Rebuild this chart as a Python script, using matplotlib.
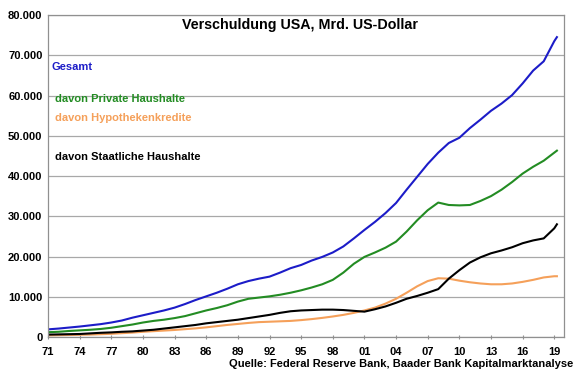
import matplotlib
matplotlib.use("Agg")
import matplotlib.pyplot as plt

plt.rcParams['font.family'] = ['Liberation Sans', 'DejaVu Sans']

# Jahre (Jahresanfang), letzter Punkt Q1 2019
jahre = list(range(1971, 2020)) + [2019.25]

gesamt = [1.9, 2.1, 2.35, 2.6, 2.9, 3.2, 3.6, 4.1, 4.8, 5.4,
          6.0, 6.6, 7.3, 8.2, 9.2, 10.1, 11.0, 12.0, 13.1, 13.9,
          14.5, 15.0, 16.0, 17.1, 17.9, 19.0, 19.9, 21.0, 22.5, 24.5,
          26.6, 28.6, 30.8, 33.3, 36.6, 39.8, 43.0, 45.8, 48.2, 49.5,
          51.9, 54.0, 56.2, 58.0, 60.1, 63.0, 66.2, 68.5, 73.5, 74.5]

private = [1.2, 1.3, 1.5, 1.65, 1.8, 2.0, 2.3, 2.7, 3.1, 3.6,
           4.0, 4.3, 4.7, 5.2, 5.9, 6.6, 7.2, 7.9, 8.8, 9.5,
           9.8, 10.1, 10.5, 11.0, 11.6, 12.3, 13.1, 14.2, 16.0, 18.2,
           19.9, 21.0, 22.2, 23.7, 26.2, 29.0, 31.5, 33.4, 32.8, 32.7,
           32.8, 33.8, 35.0, 36.6, 38.5, 40.6, 42.3, 43.8, 45.8, 46.3]

hypothek = [0.4, 0.45, 0.5, 0.55, 0.6, 0.7, 0.8, 0.95, 1.1, 1.3,
            1.45, 1.6, 1.75, 1.95, 2.15, 2.4, 2.7, 3.0, 3.25, 3.5,
            3.7, 3.8, 3.9, 4.0, 4.2, 4.45, 4.75, 5.1, 5.5, 6.0,
            6.6, 7.3, 8.3, 9.5, 11.0, 12.6, 13.9, 14.6, 14.5, 14.0,
            13.6, 13.3, 13.1, 13.1, 13.3, 13.7, 14.2, 14.8, 15.1, 15.1]

staat = [0.6, 0.65, 0.7, 0.75, 0.9, 1.05, 1.15, 1.3, 1.4, 1.6,
         1.8, 2.1, 2.4, 2.7, 3.0, 3.4, 3.7, 4.0, 4.3, 4.7,
         5.1, 5.5, 6.0, 6.4, 6.6, 6.7, 6.8, 6.8, 6.7, 6.5,
         6.3, 6.9, 7.6, 8.5, 9.5, 10.2, 11.0, 11.9, 14.5, 16.6,
         18.5, 19.8, 20.8, 21.5, 22.3, 23.3, 24.0, 24.5, 27.0, 28.0]

xticks = list(range(1971, 2020, 3))
xticklabels = ["%02d" % (j % 100) for j in xticks]
yticks = list(range(0, 80001, 10000))
yticklabels = ["0"] + ["{:,}".format(v).replace(",", ".") for v in yticks[1:]]

BLAU = "#1c1cc8"
GRUEN = "#238c23"
ORANGE = "#f5a05a"

fig = plt.figure(figsize=(5.8, 3.75), dpi=100)
ax = fig.add_axes([0.0828, 0.1013, 0.8892, 0.8587])

def mrd(werte):
    return [w * 1000 for w in werte]

ax.plot(jahre, mrd(gesamt), color=BLAU, lw=1.5)
ax.plot(jahre, mrd(private), color=GRUEN, lw=1.5)
ax.plot(jahre, mrd(hypothek), color=ORANGE, lw=1.5)
ax.plot(jahre, mrd(staat), color="black", lw=1.5)

ax.set_xlim(1971, 2019.9)
ax.set_ylim(0, 80000)
ax.set_xticks(xticks)
ax.set_xticklabels(xticklabels, fontsize=8, fontweight="bold")
ax.set_yticks(yticks)
ax.set_yticklabels(yticklabels, fontsize=8, fontweight="bold")
ax.tick_params(axis="y", length=0, pad=4)
ax.tick_params(axis="x", length=3, direction="inout", color="#909090", pad=6)
ax.grid(axis="y", color="#a8a8a8", lw=0.9)
ax.set_axisbelow(True)
for s in ax.spines.values():
    s.set_color("#909090")
    s.set_linewidth(0.9)

ax.text(0.489, 0.99, "Verschuldung USA, Mrd. US-Dollar", transform=ax.transAxes,
        ha="center", va="top", fontsize=10.3, fontweight="bold")

ax.text(0.006, 0.84, "Gesamt", transform=ax.transAxes, color=BLAU,
        fontsize=8, fontweight="bold", va="center")
ax.text(0.014, 0.74, "davon Private Haushalte", transform=ax.transAxes, color=GRUEN,
        fontsize=8, fontweight="bold", va="center")
ax.text(0.014, 0.68, "davon Hypothekenkredite", transform=ax.transAxes, color=ORANGE,
        fontsize=8, fontweight="bold", va="center")
ax.text(0.014, 0.56, "davon Staatliche Haushalte", transform=ax.transAxes, color="black",
        fontsize=8, fontweight="bold", va="center")

fig.text(0.988, 0.03, "Quelle: Federal Reserve Bank, Baader Bank Kapitalmarktanalyse",
         ha="right", va="center", fontsize=8, fontweight="bold")

fig.savefig("out.png", dpi=100)
